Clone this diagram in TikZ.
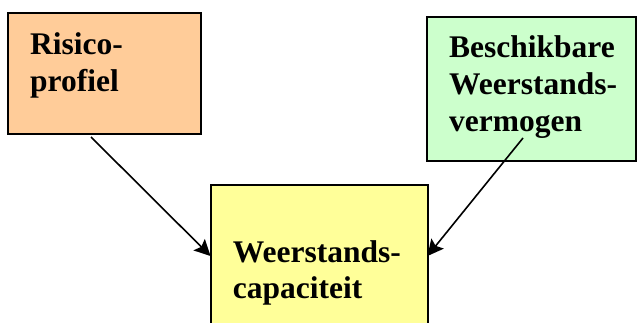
\documentclass[tikz,border=0pt]{standalone}
\usepackage{fontspec}
\setmainfont{Liberation Serif}
\usetikzlibrary{arrows.meta}
\definecolor{riskfill}{HTML}{FFCC99}
\definecolor{resfill}{HTML}{CCFFCC}
\definecolor{capfill}{HTML}{FFFF99}
\begin{document}
\begin{tikzpicture}[x=1pt,y=-1pt,
  box/.style={draw=black,line width=2pt,inner sep=0pt,outer sep=0pt,anchor=north west},
  boxtext/.style={font=\fontsize{31.5}{#1}\selectfont\bfseries,align=left,anchor=base west,inner sep=0pt},
  link/.style={line width=1.6pt,-{Stealth[length=16pt,width=16pt,inset=3pt]}}]
\useasboundingbox (0,0) rectangle (637,323);
\clip (0,0) rectangle (637,323);
% boxes
\node[box,fill=riskfill,minimum width=193pt,minimum height=121pt] (risk) at (8,13) {};
\node[box,fill=resfill,minimum width=209pt,minimum height=144pt] (res) at (427,17.5) {};
\node[box,fill=capfill,minimum width=217pt,minimum height=142pt] (cap) at (210.5,185) {};
% labels (anchored at the baseline of the last line)
\node[boxtext=37.4] (risktext) at (30,91.7) {Risico-\\profiel};
\node[boxtext=37.2] (restext) at (449,131.7) {Beschikbare\\Weerstands-\\vermogen};
\node[boxtext=35.3] (captext) at (232.7,298) {Weerstands-\\capaciteit};
% connectors
\coordinate (s1) at (91,137);
\coordinate (s2) at (523,138);
\draw[link] (s1) -- (cap.west);
\draw[link] (s2) -- (cap.east);
\end{tikzpicture}
\end{document}
